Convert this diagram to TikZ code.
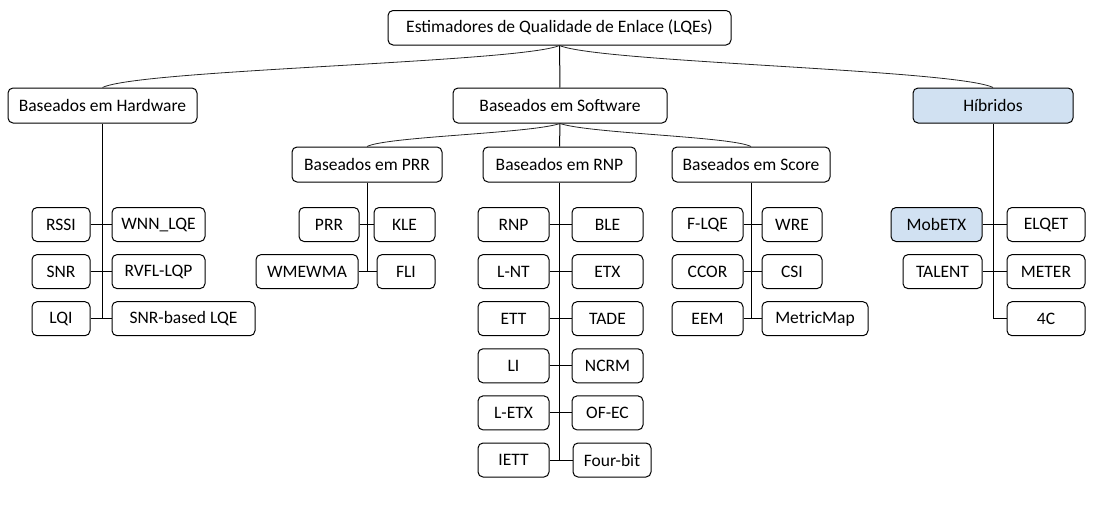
\documentclass[tikz,border=0pt]{standalone}
\usepackage{fontspec}
\setmainfont{Carlito}
\usetikzlibrary{positioning}
\definecolor{hybblue}{RGB}{209,225,242}
\newcommand{\lqefont}{\fontsize{17.5}{20}\selectfont}

\begin{document}
\begin{tikzpicture}[x=1pt,y=-1pt,
        box/.style={rectangle,rounded corners=5pt,draw,line width=1pt,
          minimum height=35pt,inner sep=0pt,font=\lqefont},
        leaf/.style={box,minimum height=34pt},
        hybfill/.style={fill=hybblue},
        link/.style={line width=1pt},
        curvelink/.style={line width=0.8pt,black!85}]
        \useasboundingbox (0,0) rectangle (1105,506);
        % top levels
        \node[box,minimum width=343pt,minimum height=34.5pt] (root) at (559.5,27.75) {Estimadores de Qualidade de Enlace (LQEs)};
        \node[box,minimum width=189pt] (hw) at (102.5,105.5) {Baseados em Hardware};
        \node[box,minimum width=214pt] (sw) at (560,105.5) {Baseados em Software};
        \node[box,hybfill,minimum width=160pt] (hyb) at (993,105.5) {Híbridos};
        \node[box,minimum width=150pt] (prr) at (367,164.5) {Baseados em PRR};
        \node[box,minimum width=153pt] (rnp) at (559.5,164.5) {Baseados em RNP};
        \node[box,minimum width=158pt] (score) at (751,164.5) {Baseados em Score};
        % hardware
        \node[leaf,minimum width=58pt] (rssi) at (61,224.5) {RSSI};
        \node[leaf,minimum width=93pt] (wnn) at (158.5,224.5) {WNN\_LQE};
        \node[leaf,minimum width=58pt] (snr) at (61,271.6) {SNR};
        \node[leaf,minimum width=93pt] (rvfl) at (158.5,271.6) {RVFL-LQP};
        \node[leaf,minimum width=58pt] (lqi) at (61,318.7) {LQI};
        \node[leaf,minimum width=143pt] (snrlqe) at (183.5,318.7) {SNR-based LQE};
        % prr
        \node[leaf,minimum width=60pt] (prrleaf) at (329,224.5) {PRR};
        \node[leaf,minimum width=61pt] (kle) at (404.5,224.5) {KLE};
        \node[leaf,minimum width=102pt] (wmewma) at (307,271.6) {WMEWMA};
        \node[leaf,minimum width=58pt] (fli) at (406,271.6) {FLI};
        % rnp
        \node[leaf,minimum width=71pt] (rnpleaf) at (513.5,224.5) {RNP};
        \node[leaf,minimum width=71pt] (ble) at (607.5,224.5) {BLE};
        \node[leaf,minimum width=71pt] (lnt) at (513.5,271.6) {L-NT};
        \node[leaf,minimum width=71pt] (etx) at (607.5,271.6) {ETX};
        \node[leaf,minimum width=71pt] (ett) at (513.5,318.7) {ETT};
        \node[leaf,minimum width=71pt] (tade) at (607.5,318.7) {TADE};
        \node[leaf,minimum width=71pt] (li) at (513.5,365.8) {LI};
        \node[leaf,minimum width=71pt] (ncrm) at (607.5,365.8) {NCRM};
        \node[leaf,minimum width=71pt] (letx) at (513.5,412.9) {L-ETX};
        \node[leaf,minimum width=71pt] (ofec) at (607.5,412.9) {OF-EC};
        \node[leaf,minimum width=71pt] (iett) at (513.5,460) {IETT};
        \node[leaf,minimum width=78pt] (fourbit) at (612,460) {Four-bit};
        % score
        \node[leaf,minimum width=71pt] (flqe) at (707.5,224.5) {F-LQE};
        \node[leaf,minimum width=60pt] (wre) at (792,224.5) {WRE};
        \node[leaf,minimum width=71pt] (ccor) at (707.5,271.6) {CCOR};
        \node[leaf,minimum width=60pt] (csi) at (792,271.6) {CSI};
        \node[leaf,minimum width=71pt] (eem) at (707.5,318.7) {EEM};
        \node[leaf,minimum width=106pt] (metricmap) at (815,318.7) {MetricMap};
        % hybrid
        \node[leaf,hybfill,minimum width=91pt] (mobetx) at (936.5,224.5) {MobETX};
        \node[leaf,minimum width=78pt] (elqet) at (1046,224.5) {ELQET};
        \node[leaf,minimum width=79pt] (talent) at (942.5,271.6) {TALENT};
        \node[leaf,minimum width=78pt] (meter) at (1046,271.6) {METER};
        \node[leaf,minimum width=78pt] (fourc) at (1046,318.7) {4C};
        % links between levels
        \draw[link] (root) -- (sw);
        \draw[curvelink] (root.south) .. controls +(-40,17) and +(37,-18) .. (hw.north);
        \draw[curvelink] (root.south) .. controls +(40,17) and +(-37,-18) .. (hyb.north);
        \draw[link] (sw) -- (rnp);
        \draw[curvelink] (sw.south) .. controls +(-30,10) and +(20,-10) .. (prr.north);
        \draw[curvelink] (sw.south) .. controls +(30,10) and +(-20,-10) .. (score.north);
        % links to leaves
        \draw[link] (hw.south) |- (lqi.east);
        \draw[link] (rssi) -- (wnn);
        \draw[link] (snr) -- (rvfl);
        \draw[link] (lqi) -- (snrlqe);
        \draw[link] (prr.south) |- (wmewma.east);
        \draw[link] (prrleaf) -- (kle);
        \draw[link] (wmewma) -- (fli);
        \draw[link] (rnp.south) |- (iett.east);
        \draw[link] (rnpleaf) -- (ble);
        \draw[link] (lnt) -- (etx);
        \draw[link] (ett) -- (tade);
        \draw[link] (li) -- (ncrm);
        \draw[link] (letx) -- (ofec);
        \draw[link] (iett) -- (fourbit);
        \draw[link] (score.south) |- (eem.east);
        \draw[link] (flqe) -- (wre);
        \draw[link] (ccor) -- (csi);
        \draw[link] (eem) -- (metricmap);
        \draw[link] (hyb.south) |- (fourc.west);
        \draw[link] (mobetx) -- (elqet);
        \draw[link] (talent) -- (meter);
      \end{tikzpicture}
\end{document}
